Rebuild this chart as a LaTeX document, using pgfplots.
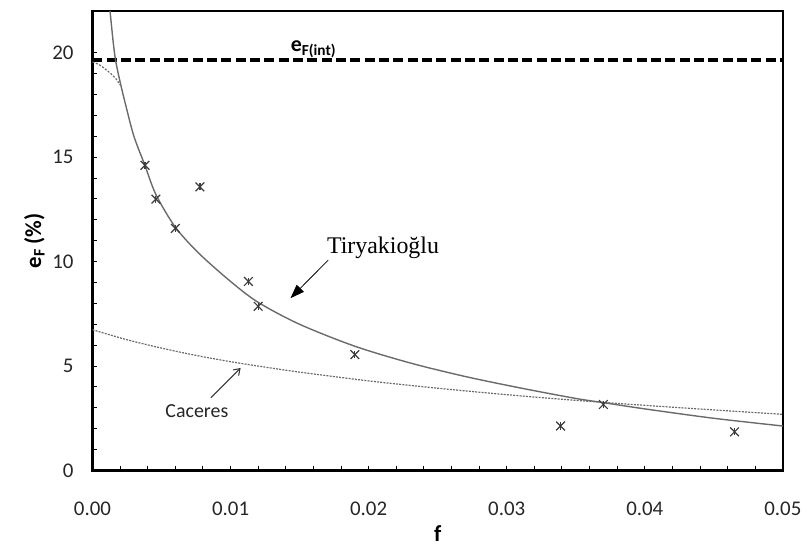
\documentclass[border=0pt]{standalone}
\usepackage{fontspec}
\setmainfont{Carlito}
\newfontfamily\timesfont{Liberation Serif}
\usepackage{pgfplots}
\pgfplotsset{compat=1.18}
\usetikzlibrary{arrows.meta}

\definecolor{curvegray}{HTML}{6A6A6A}
\definecolor{markgray}{HTML}{3C3C3C}

\begin{document}
\begin{tikzpicture}
\begin{axis}[
    scale only axis,
    width=347pt, height=231pt,
    xmin=0, xmax=0.05,
    ymin=0, ymax=22,
    xtick={0,0.01,0.02,0.03,0.04,0.05},
    ytick={0,5,10,15,20},
    minor x tick num=4,
    minor y tick num=4,
    xtick pos=bottom, ytick pos=left,
    tick align=inside,
    major tick length=2.5pt, minor tick length=2.5pt,
    tick style={black, line width=0.5pt},
    axis line style={line width=1.2pt},
    scaled x ticks=false,
    xticklabel style={/pgf/number format/.cd, fixed, fixed zerofill, precision=2, /tikz/.cd, yshift=-12.5pt},
    yticklabel style={xshift=-6pt},
    /pgf/number format/assume math mode=true,
    tick label style={font=\fontsize{10.5}{12}\selectfont, text=black!85},
    xlabel={\textbf{f}},
    ylabel={\textbf{e\textsubscript{F}\,(\%)}},
    label style={font=\fontsize{11.5}{13}\selectfont},
    xlabel style={yshift=2pt},
    ylabel style={yshift=-3pt},
    clip=false,
]

% e_F(int)
\addplot[black, line width=1.6pt, dash pattern=on 5pt off 2.2pt] coordinates {(0,19.65) (0.05,19.65)};

% Tiryakioglu
\addplot[curvegray, line width=0.7pt, smooth, tension=0.5] coordinates {
(0.00127,22.0) (0.0015,20.5) (0.00168,19.6) (0.002,18.6) (0.0024,17.5)
(0.003,16.0) (0.0038,14.6) (0.0046,13.2) (0.006,11.65) (0.0077,10.4)
(0.010,9.05) (0.012,8.05) (0.015,7.0) (0.019,5.95) (0.023,5.15)
(0.027,4.5) (0.031,3.95) (0.035,3.45) (0.037,3.25) (0.040,2.95)
(0.045,2.5) (0.050,2.13)};

% Caceres
\addplot[curvegray, line width=0.6pt, dash pattern=on 1pt off 0.6pt, smooth] coordinates {
(0,6.74) (0.0025,6.26) (0.005,5.86) (0.0075,5.51) (0.010,5.21)
(0.0125,4.95) (0.015,4.71) (0.020,4.29) (0.025,3.94) (0.030,3.63)
(0.035,3.36) (0.040,3.12) (0.045,2.90) (0.050,2.69)};

% Caceres upper branch
\addplot[curvegray, line width=0.6pt, dash pattern=on 1pt off 0.8pt, smooth] coordinates {
(0,19.55) (0.0005,19.42) (0.0012,19.07) (0.0017,18.75) (0.002,18.45)};

% data: x crosses with a short vertical stroke
\addplot[only marks, mark=x, mark size=3.1pt, markgray, line width=0.6pt] coordinates {
(0.0038,14.61) (0.00459,12.99) (0.0060,11.59) (0.00778,13.58)
(0.01129,9.05) (0.0120,7.86) (0.0190,5.55) (0.0339,2.13)
(0.0370,3.16) (0.0465,1.85)};
\addplot[only marks, mark=|, mark size=1.8pt, markgray, line width=0.6pt] coordinates {
(0.0038,14.61) (0.00459,12.99) (0.0060,11.59) (0.00778,13.58)
(0.01129,9.05) (0.0120,7.86) (0.0190,5.55) (0.0339,2.13)
(0.0370,3.16) (0.0465,1.85)};

\node[anchor=base west, font=\fontsize{11}{13}\selectfont\bfseries, inner sep=0pt]
  at (axis cs:0.01434,20.05) {e\textsubscript{F(int)}};

\draw[-{Triangle[length=7pt,width=5pt]}, line width=0.4pt] (axis cs:0.01707,10.07) -- (axis cs:0.01434,8.25);
\node[font=\timesfont\fontsize{12}{14}\selectfont, inner sep=0pt] at (axis cs:0.02104,10.64) {Tiryakioğlu};

\draw[-{Straight Barb[length=3pt,width=4pt]}, line width=0.5pt, black!80] (axis cs:0.00857,3.48) -- (axis cs:0.01073,4.91);
\node[font=\fontsize{10}{12}\selectfont, inner sep=0pt, text=black!85] at (axis cs:0.00756,2.86) {Caceres};
\end{axis}
\path ([shift={(-46.5pt,-37pt)}]current axis.south west) rectangle ([shift={(10.5pt,5.5pt)}]current axis.north east);
\end{tikzpicture}
\end{document}
